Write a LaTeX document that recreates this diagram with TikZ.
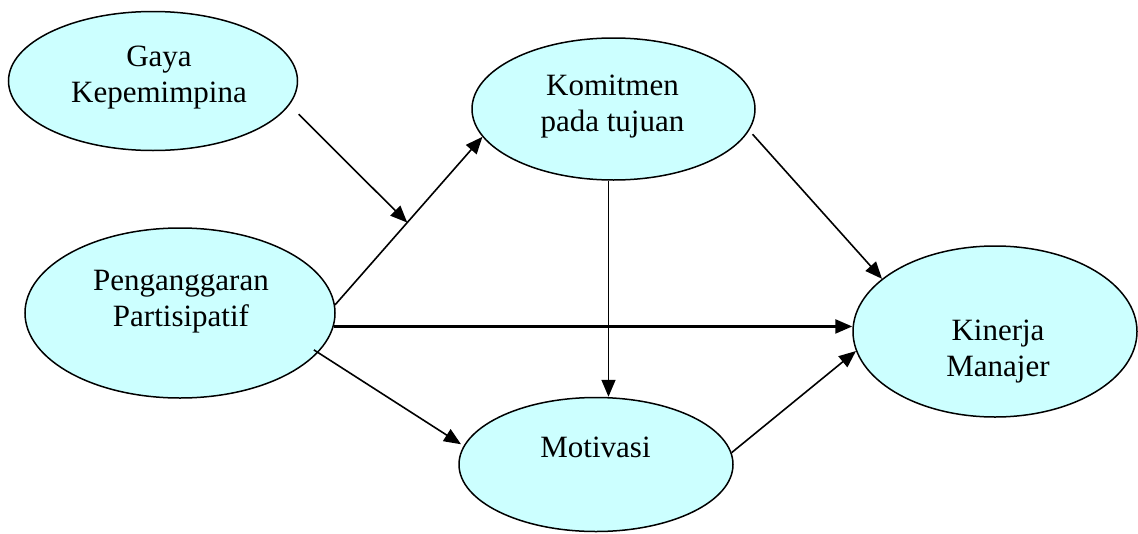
\documentclass[tikz,border=0pt]{standalone}
\usepackage{fontspec}
\setmainfont{Liberation Serif}
\usetikzlibrary{shapes.geometric,arrows.meta}
\definecolor{fillc}{HTML}{CCFFFF}
\tikzset{
  oval/.style={ellipse, draw=black, line width=1.5pt, fill=fillc, inner sep=0pt},
  lbl/.style={font=\fontsize{31}{36}\selectfont, align=center, anchor=base, inner sep=0pt},
  conn/.style={line width=1.6pt, -{Triangle[length=17pt,width=14pt]}},
  thickconn/.style={line width=2.4pt, -{Triangle[length=17pt,width=14pt]}},
}
\begin{document}
\begin{tikzpicture}[x=1pt,y=-1pt]
\useasboundingbox (0,0) rectangle (1138,533);
% ellipses
\node[oval, minimum width=289pt, minimum height=139pt] (G) at (153,81) {};
\node[oval, minimum width=283pt, minimum height=142pt] (K) at (613.5,109) {};
\node[oval, minimum width=310pt, minimum height=170pt] (P) at (180,313) {};
\node[oval, minimum width=274pt, minimum height=134pt] (M) at (596,464.5) {};
\node[oval, minimum width=284pt, minimum height=171pt] (J) at (995,331.5) {};
% labels (base = baseline of last line)
\node[lbl] (Gt) at (159,102) {Gaya\\Kepemimpina};
\node[lbl] (Kt) at (612.5,131) {Komitmen\\pada tujuan};
\node[lbl] (Pt) at (181,326) {Penganggaran\\Partisipatif};
\node[lbl] (Mt) at (595.5,457) {Motivasi};
\node[lbl] (Jt) at (998,376) {Kinerja\\Manajer};
% connectors
\draw[conn] (P.3.7) -- coordinate[pos=0.49] (mid) (K.192);
\draw[conn, shorten <=13pt] (G.-10.5) -- (mid);
\draw[conn] (K.266.5) -- (K.266.5 |- M.north);
\draw[conn, shorten <=5pt] (K.-9.8) -- (J.155.1);
\draw[thickconn] (P.-5.2) -- (P.-5.2 -| J.west);
\draw[conn, shorten <=-5pt, shorten >=3pt] (P.-16.1) -- (M.172.3);
\draw[conn] (M.5.7) -- (J.188);
\end{tikzpicture}
\end{document}
